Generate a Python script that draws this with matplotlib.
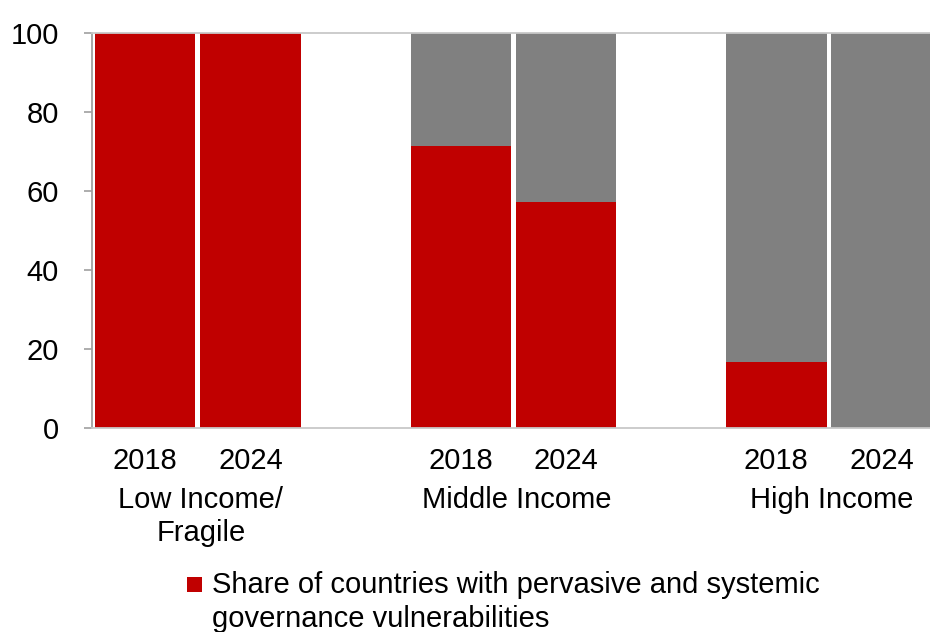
import matplotlib
matplotlib.use("Agg")
import matplotlib.pyplot as plt
from matplotlib.patches import Rectangle

plt.rcParams['font.family'] = ['Liberation Sans', 'DejaVu Sans']

# --- Data ---
GROUPS = ["Low Income/\nFragile", "Middle Income", "High Income"]
YEARS = ["2018", "2024"]
# share of countries (%) with pervasive and systemic governance vulnerabilities
SHARE = [
    [100.0, 100.0],
    [71.4, 57.1],
    [16.7, 0.0],
]
LEGEND_LINES = ["Share of countries with pervasive and systemic",
                "governance vulnerabilities"]

RED = '#C00000'
GREY = '#808080'
FS = 21
W, H = 930, 632


def main():
    fig = plt.figure(figsize=(W / 100, H / 100), dpi=100)
    ax = fig.add_axes([92 / W, 204 / H, 840 / W, 395 / H])

    # each group takes two slots plus an empty slot between groups
    positions = []
    for g in range(len(GROUPS)):
        positions.append([g * 3, g * 3 + 1])

    width = 0.955
    for g, vals in enumerate(SHARE):
        for k, v in enumerate(vals):
            x = positions[g][k]
            ax.bar(x, v, width=width, color=RED, linewidth=0, zorder=2)
            ax.bar(x, 100 - v, bottom=v, width=width, color=GREY, linewidth=0, zorder=2)

    ax.set_xlim(-0.506, 7.48)
    ax.set_ylim(0, 100)
    ax.set_yticks(range(0, 101, 20))
    ax.tick_params(axis='y', labelsize=FS, length=6, color='#A0A0A0', width=1.2, pad=18)

    # year labels under each bar, group names below them
    flat_x = [x for pair in positions for x in pair]
    ax.set_xticks(flat_x)
    ax.set_xticklabels(YEARS * len(GROUPS), fontsize=FS)
    ax.tick_params(axis='x', length=0, pad=14)
    for g, name in enumerate(GROUPS):
        xc = (positions[g][0] + positions[g][1]) / 2 + 0.03
        ax.text(xc, -0.146, name, transform=ax.get_xaxis_transform(),
                ha='center', va='top', fontsize=FS, linespacing=1.26)

    ax.spines['left'].set_color('#A0A0A0')
    ax.spines['left'].set_linewidth(1.3)
    for side in ('top', 'bottom'):
        ax.spines[side].set_color('#C8C8C8')
        ax.spines[side].set_linewidth(1.3)
    ax.spines['right'].set_visible(False)

    # legend key: red square and two-line label
    fig.add_artist(Rectangle((187 / W, 1 - 592 / H), 15 / W, 15 / H,
                             transform=fig.transFigure, facecolor=RED, edgecolor='none'))
    fig.text(212 / W, 1 - 593 / H, LEGEND_LINES[0], fontsize=FS, va='baseline')
    fig.text(212 / W, 1 - 627 / H, LEGEND_LINES[1], fontsize=FS, va='baseline')

    fig.savefig('out.png', dpi=100)


if __name__ == "__main__":
    main()
